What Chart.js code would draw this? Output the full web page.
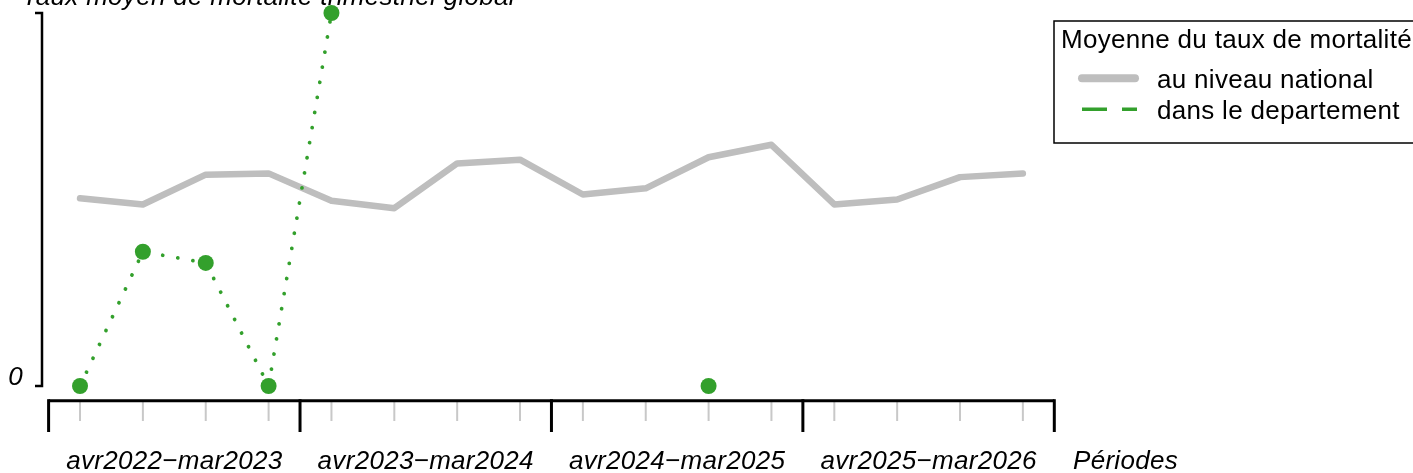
<!DOCTYPE html>
<html>
<head>
<meta charset="utf-8">
<script src="https://cdn.jsdelivr.net/npm/chart.js@4/dist/chart.umd.min.js"></script>
<style>
  html, body { margin: 0; padding: 0; background: #fff; }
  #wrap { width: 1413px; height: 473px; }
</style>
</head>
<body>
<div id="wrap"><canvas id="mortaliteChart" width="1413" height="473"></canvas></div>
<script>
// trimestres (axe x) et annees de regroupement
const periodes = [
  "avr-jun 2022", "jul-sep 2022", "oct-dec 2022", "jan-mar 2023",
  "avr-jun 2023", "jul-sep 2023", "oct-dec 2023", "jan-mar 2024",
  "avr-jun 2024", "jul-sep 2024", "oct-dec 2024", "jan-mar 2025",
  "avr-jun 2025", "jul-sep 2025", "oct-dec 2025", "jan-mar 2026"
];
const annees = ["avr2022\u2212mar2023", "avr2023\u2212mar2024", "avr2024\u2212mar2025", "avr2025\u2212mar2026"];

// taux moyen
const national = [1.51, 1.46, 1.70, 1.71, 1.49, 1.43, 1.79, 1.82, 1.54, 1.59, 1.84, 1.94, 1.46, 1.50, 1.68, 1.71];
const departement = [0, 1.08, 0.99, 0, 3.0, null, null, null, null, null, 0, null, null, null, null, null];

// graduations de l'axe y
const yTicks = [0, 3];
const yTickLabels = ["0", ""];

const titre = "Taux moyen de mortalit\u00e9 trimestriel global";
const legendeTitre = "Moyenne du taux de mortalit\u00e9";
const legendeItems = ["au niveau national", "dans le departement"];

const GRIS = "#BEBEBE";
const VERT = "#33A02C";
const FONT = "26px 'Liberation Sans', Arial, sans-serif";
const FONT_IT = "italic 26px 'Liberation Sans', Arial, sans-serif";

function setSpacing(ctx, v) {
  if ("letterSpacing" in ctx) ctx.letterSpacing = v;
}

// axes et legende dessines a la main (style R)
const axesPlugin = {
  id: "axesR",
  afterDraw(chart) {
    const ctx = chart.ctx;
    const xs = chart.scales.x;
    const ys = chart.scales.y;
    const step = xs.getPixelForValue(1) - xs.getPixelForValue(0);
    const axeY = 400.7;

    ctx.save();
    setSpacing(ctx, "0.3px");

    // titre
    ctx.fillStyle = "#000";
    ctx.font = FONT_IT;
    ctx.textAlign = "left";
    ctx.textBaseline = "alphabetic";
    ctx.fillText(titre, 22, 5);

    // axe y en crochet
    const yTop = ys.getPixelForValue(yTicks[yTicks.length - 1]);
    const yBot = ys.getPixelForValue(yTicks[0]);
    ctx.strokeStyle = "#000";
    ctx.lineWidth = 2.5;
    ctx.lineCap = "butt";
    ctx.beginPath();
    ctx.moveTo(35, yTop);
    ctx.lineTo(42, yTop);
    ctx.lineTo(42, yBot);
    ctx.lineTo(35, yBot);
    ctx.stroke();
    ctx.textAlign = "right";
    yTicks.forEach((t, i) => {
      if (yTickLabels[i]) ctx.fillText(yTickLabels[i], 23, ys.getPixelForValue(t) - 1);
    });

    // ticks trimestriels gris
    ctx.strokeStyle = "#C8C8C8";
    ctx.lineWidth = 2;
    periodes.forEach((p, i) => {
      const x = xs.getPixelForValue(i);
      ctx.beginPath();
      ctx.moveTo(x, axeY);
      ctx.lineTo(x, 421);
      ctx.stroke();
    });

    // axe x et separateurs d'annees
    const x0 = xs.getPixelForValue(0) - step / 2;
    const x1 = xs.getPixelForValue(periodes.length - 1) + step / 2;
    ctx.strokeStyle = "#000";
    ctx.lineWidth = 3;
    ctx.beginPath();
    ctx.moveTo(x0, axeY);
    ctx.lineTo(x1, axeY);
    ctx.stroke();
    for (let k = 0; k <= annees.length; k++) {
      const x = x0 + k * 4 * step;
      ctx.beginPath();
      ctx.moveTo(x, axeY - 1.5);
      ctx.lineTo(x, 432);
      ctx.stroke();
    }
    ctx.textAlign = "center";
    annees.forEach((a, k) => {
      ctx.fillText(a, x0 + (k * 4 + 2) * step, 469);
    });
    ctx.textAlign = "left";
    ctx.fillText("P\u00e9riodes", 1073, 469);

    // legende
    ctx.lineWidth = 1.5;
    ctx.strokeRect(1054, 21, 400, 122);
    ctx.font = FONT;
    ctx.fillText(legendeTitre, 1061, 48);

    ctx.strokeStyle = GRIS;
    ctx.lineWidth = 8;
    ctx.lineCap = "round";
    ctx.beginPath();
    ctx.moveTo(1082, 78.3);
    ctx.lineTo(1135, 78.3);
    ctx.stroke();

    ctx.strokeStyle = VERT;
    ctx.lineWidth = 3.5;
    ctx.lineCap = "butt";
    ctx.setLineDash([25, 15]);
    ctx.beginPath();
    ctx.moveTo(1082, 109.3);
    ctx.lineTo(1137, 109.3);
    ctx.stroke();
    ctx.setLineDash([]);

    ctx.fillStyle = "#000";
    ctx.fillText(legendeItems[0], 1157, 87.5);
    ctx.fillText(legendeItems[1], 1157, 118.5);
    ctx.restore();
  }
};

const ctx = document.getElementById("mortaliteChart").getContext("2d");

const chart = new Chart(ctx, {
  type: "line",
  data: {
    labels: periodes,
    datasets: [
      {
        label: legendeItems[1],
        data: departement,
        borderColor: VERT,
        backgroundColor: VERT,
        borderWidth: 3.8,
        borderDash: [0.01, 15.3],
        borderCapStyle: "round",
        pointRadius: 8,
        pointBorderWidth: 0,
        pointBackgroundColor: VERT,
        spanGaps: false,
        tension: 0,
        clip: false,
        order: 1,
      },
      {
        label: legendeItems[0],
        data: national,
        borderColor: GRIS,
        borderWidth: 6.5,
        borderCapStyle: "round",
        borderJoinStyle: "round",
        pointRadius: 0,
        tension: 0,
        clip: false,
        order: 2,
      },
    ],
  },
  options: {
    responsive: false,
    animation: false,
    layout: {
      padding: { left: 48.6, right: 1413 - 1054.3, top: 13, bottom: 473 - 386 },
    },
    scales: {
      x: { type: "category", offset: true, display: false },
      y: { min: yTicks[0], max: yTicks[yTicks.length - 1], display: false },
    },
    plugins: {
      legend: { display: false },
      tooltip: { enabled: false },
    },
  },
  plugins: [axesPlugin],
});
</script>
</body>
</html>
